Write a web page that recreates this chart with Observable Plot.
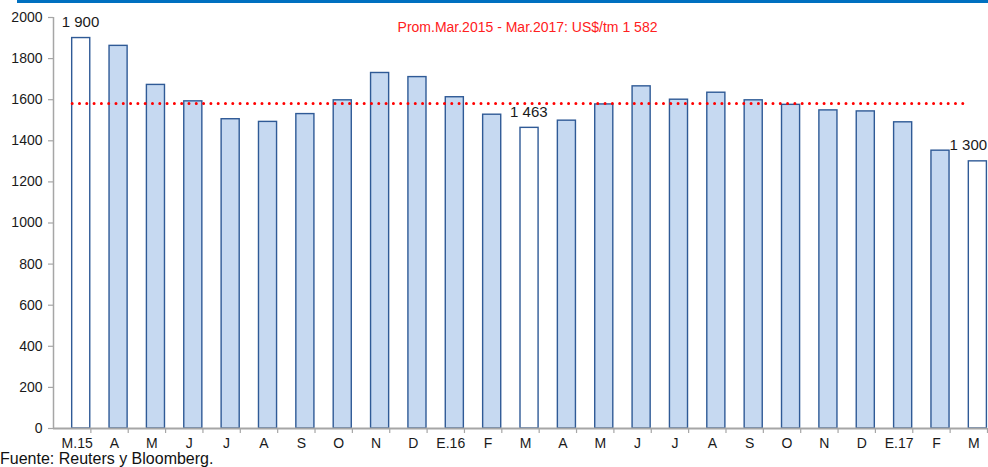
<!DOCTYPE html>
<html>
<head>
<meta charset="utf-8">
<script src="https://cdn.jsdelivr.net/npm/d3@7"></script>
<script src="https://cdn.jsdelivr.net/npm/@observablehq/plot@0.6"></script>
<style>
  html, body { margin: 0; padding: 0; background: #fff; }
  #wrap { position: relative; width: 988px; height: 467px; overflow: hidden; font-family: "Liberation Sans", Arial, sans-serif; }
  #topbar { position: absolute; left: 17px; top: 0; width: 971px; height: 3px; background: #0070C0; }
  #chart { position: absolute; left: 0; top: 0; }
  #caption { position: absolute; left: 0; top: 450px; font-size: 16px; color: #111; white-space: nowrap; }
</style>
</head>
<body>
<div id="wrap">
  <div id="topbar"></div>
  <div id="chart"></div>
  <div id="caption">Fuente: Reuters y Bloomberg.</div>
</div>
<script>
// Months (unique keys), tick labels and prices (US$/tm)
const months = ["2015-03","2015-04","2015-05","2015-06","2015-07","2015-08","2015-09","2015-10","2015-11","2015-12",
                "2016-01","2016-02","2016-03","2016-04","2016-05","2016-06","2016-07","2016-08","2016-09","2016-10","2016-11","2016-12",
                "2017-01","2017-02","2017-03"];
const tickLabels = ["M.15","A","M","J","J","A","S","O","N","D","E.16","F","M","A","M","J","J","A","S","O","N","D","E.17","F","M"];
const prices = [1900, 1862, 1672, 1592, 1505, 1492, 1530, 1597, 1730, 1710, 1612, 1527, 1463, 1498, 1577, 1665, 1600, 1634, 1597, 1575, 1548, 1543, 1490, 1352, 1300];
const highlighted = ["2015-03", "2016-03", "2017-03"];
const average = 1582;
const averageLabel = "Prom.Mar.2015 - Mar.2017: US$/tm 1 582";
const yTicks = [0, 200, 400, 600, 800, 1000, 1200, 1400, 1600, 1800, 2000];

const data = months.map((m, i) => ({month: m, label: tickLabels[i], price: prices[i], hi: highlighted.includes(m)}));
const fmt = d3.formatLocale({thousands: " ", grouping: [3], decimal: ","}).format(",");
const hiData = data.filter(d => d.hi);
const lastMonth = months[months.length - 1];

const W = 988, H = 455, ML = 53, MR = 1;
const bw = (W - ML - MR) / months.length;
const font = "Liberation Sans, Arial, sans-serif";

const chart = Plot.plot({
  width: W,
  height: H,
  marginLeft: ML,
  marginRight: MR,
  marginTop: 17,
  marginBottom: 27,
  style: {fontFamily: font, fontSize: "14px", color: "#1a1a1a", background: "transparent", overflow: "visible"},
  x: {type: "band", domain: months, padding: 0, round: false, axis: null, label: null},
  y: {domain: [0, 2000], axis: null, label: null},
  marks: [
    // bars
    Plot.barY(data, {
      x: "month", y: "price",
      fill: d => d.hi ? "#ffffff" : "#C6D9F1",
      stroke: "#2F5A96", strokeWidth: 1.4,
      insetLeft: bw / 2, insetRight: 0.6
    }),
    // average dotted line
    Plot.lineY(months, {x: d => d, y: () => average, stroke: "#FF0000", strokeWidth: 3,
      strokeDasharray: "0,7.3", strokeLinecap: "round"}),
    Plot.text([averageLabel], {x: () => months[12], y: () => 2000, text: d => d, fill: "#FF2020",
      fontSize: 14, dy: 10, dx: 7}),
    // data labels
    Plot.text(hiData.filter(d => d.month !== lastMonth), {x: "month", y: "price", text: d => fmt(d.price),
      dx: bw / 4 - 1, dy: -16, fontSize: 15, fill: "#1a1a1a"}),
    Plot.text(hiData.filter(d => d.month === lastMonth), {x: "month", y: "price", text: d => fmt(d.price),
      textAnchor: "end", dx: bw / 4 + 9, dy: -16, fontSize: 15, fill: "#1a1a1a"}),
    // y axis
    Plot.ruleX([0], {x: () => months[0], y1: 0, y2: 2000, stroke: "#A6A6A6", strokeWidth: 1.5, dx: -bw / 2}),
    Plot.axisY(yTicks, {tickSize: 5, tickPadding: 6, stroke: "#A6A6A6", strokeWidth: 1.2, fontSize: 14,
      tickFormat: d => String(d), fill: "#1a1a1a", label: null}),
    // x axis baseline
    Plot.ruleY([0], {stroke: "#A6A6A6", strokeWidth: 1.8}),
    // x tick marks between categories
    Plot.axisX({ticks: months, tickSize: 5, text: null, dx: bw / 2, stroke: "#A6A6A6", strokeWidth: 1.2,
      tickFormat: null, label: null}),
    // x tick labels
    Plot.axisX({ticks: months, tickSize: 0, tickPadding: 10, dx: 5, fontSize: 14, fill: "#1a1a1a", label: null,
      tickFormat: m => tickLabels[months.indexOf(m)]})
  ]
});
document.getElementById("chart").appendChild(chart);
</script>
</body>
</html>
